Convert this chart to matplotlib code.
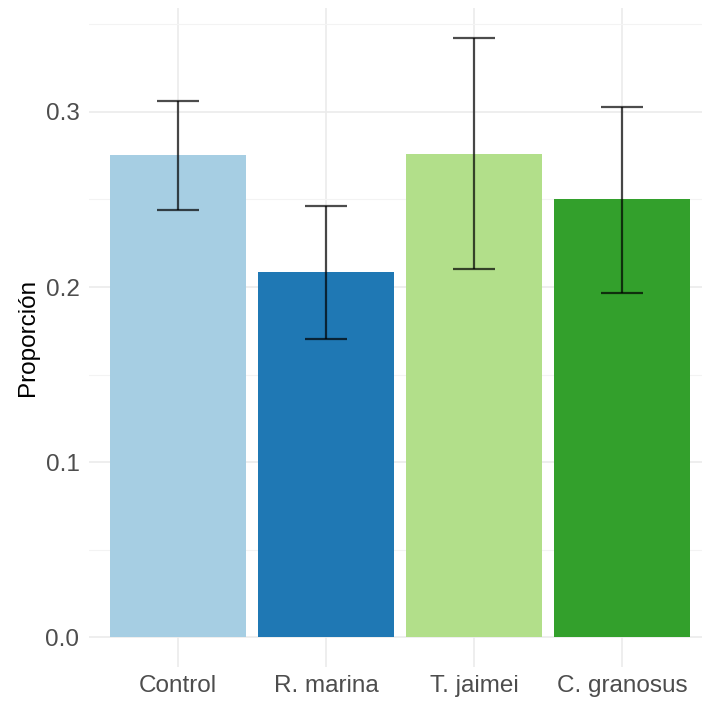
import matplotlib.pyplot as plt
import numpy as np

plt.rcParams['font.family'] = ['Liberation Sans', 'DejaVu Sans']

# data
grupos = ['Control', 'R. marina', 'T. jaimei', 'C. granosus']
proporcion = [0.2754, 0.2086, 0.2760, 0.2503]
err_inf = [0.2440, 0.1703, 0.2103, 0.1966]
err_sup = [0.3063, 0.2463, 0.3423, 0.3029]
colores = ['#A6CEE3', '#1F78B4', '#B2DF8A', '#33A02C']

W, H = 702, 704
fig = plt.figure(figsize=(W / 100, H / 100), dpi=100)
# panel in pixels: left 89, right ~711 (cropped), top 8, bottom 667
ax = fig.add_axes([89.2 / W, (H - 667) / H, (710.8 - 89.2) / W, (667 - 8) / H])

x = np.arange(len(grupos))
ax.bar(x, proporcion, width=0.92, color=colores, zorder=2)
yerr = [np.array(proporcion) - np.array(err_inf), np.array(err_sup) - np.array(proporcion)]
ax.errorbar(x, proporcion, yerr=yerr, fmt='none', ecolor='black', alpha=0.7,
            elinewidth=1.6, capsize=15, capthick=1.6, zorder=3)

ymax = max(err_sup)
ax.set_xlim(-0.6, len(grupos) - 0.4)
ax.set_ylim(-0.05 * ymax, ymax * 1.05)

ax.set_xticks(x)
ax.set_xticklabels(grupos)
ax.set_yticks([0.0, 0.1, 0.2, 0.3])
ax.set_yticklabels(['0.0', '0.1', '0.2', '0.3'])
ax.set_yticks([0.05, 0.15, 0.25, 0.35], minor=True)

ax.grid(which='major', color='#EBEBEB', linewidth=1.2, zorder=0)
ax.grid(which='minor', axis='y', color='#F3F3F3', linewidth=0.8, zorder=0)
ax.set_axisbelow(True)
for s in ax.spines.values():
    s.set_visible(False)
ax.tick_params(axis='both', which='both', length=0, labelsize=17.5, labelcolor='#4D4D4D')
ax.tick_params(axis='x', pad=6)
ax.tick_params(axis='y', pad=7)

ax.set_ylabel('Proporción', fontsize=17.5, color='black', labelpad=5)

fig.savefig('out.png', dpi=100)
